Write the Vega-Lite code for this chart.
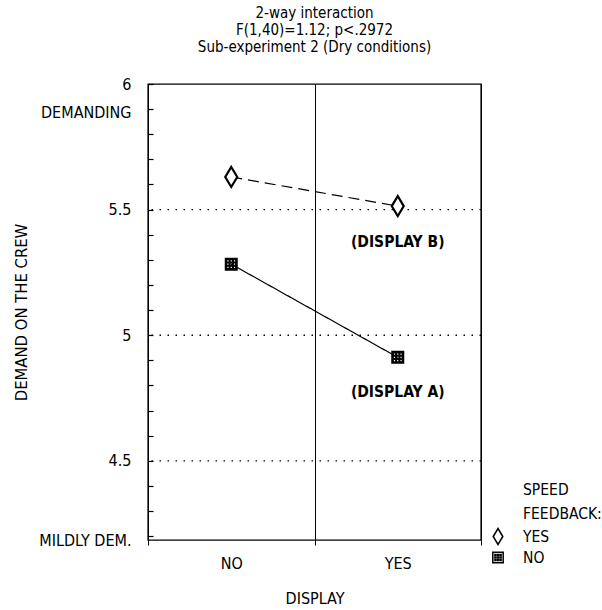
{
  "$schema": "https://vega.github.io/schema/vega-lite/v6.json",
  "width": 333,
  "height": 456,
  "autosize": {"type": "none"},
  "padding": {"left": 148, "top": 84, "right": 121, "bottom": 70},
  "background": "white",
  "config": {
    "font": "DejaVu Sans Condensed, Liberation Sans Narrow, Liberation Sans, sans-serif",
    "view": {"stroke": "black", "strokeWidth": 1.4}
  },
  "title": {
    "text": ["2-way interaction", "F(1,40)=1.12; p<.2972", "Sub-experiment 2 (Dry conditions)"],
    "fontSize": 15,
    "fontWeight": "normal",
    "color": "black",
    "lineHeight": 17,
    "offset": 21,
    "anchor": "middle"
  },
  "resolve": {"axis": {"y": "independent"}},
  "datasets": {
    "points": [
      {"display": "NO", "feedback": "YES", "demand": 5.63},
      {"display": "YES", "feedback": "YES", "demand": 5.514},
      {"display": "NO", "feedback": "NO", "demand": 5.283},
      {"display": "YES", "feedback": "NO", "demand": 4.912}
    ],
    "grid": [{"level": 4.5}, {"level": 5.0}, {"level": 5.5}],
    "notes": [
      {"display": "YES", "demand": 5.372, "label": "(DISPLAY B)"},
      {"display": "YES", "demand": 4.775, "label": "(DISPLAY A)"}
    ]
  },
  "layer": [
    {
      "data": {"name": "grid"},
      "mark": {"type": "rule", "stroke": "black", "strokeWidth": 1.4, "strokeDash": [1.5, 6.5]},
      "encoding": {
        "y": {"field": "level", "type": "quantitative", "scale": {"domain": [4.185, 6], "nice": false, "zero": false},
          "axis": {
            "orient": "left", "title": null, "labels": false, "domain": false, "grid": false,
            "values": [4.2, 4.3, 4.4, 4.5, 4.6, 4.7, 4.8, 4.9, 5, 5.1, 5.2, 5.3, 5.4, 5.5, 5.6, 5.7, 5.8, 5.9, 6],
            "ticks": true, "tickSize": -5, "tickColor": "black", "tickWidth": 1.2
          }}
      }
    },
    {
      "data": {"name": "points"},
      "mark": {"type": "line", "stroke": "black", "strokeWidth": 1.2},
      "encoding": {
        "x": {"field": "display", "type": "nominal", "sort": ["NO", "YES"],
          "scale": {"type": "band", "domain": ["NO", "YES"], "paddingInner": 0, "paddingOuter": 0},
          "axis": {
            "title": "DISPLAY", "tickBand": "extent", "grid": true, "gridColor": "black", "gridWidth": 1, "gridOpacity": 1,
            "domain": false, "ticks": true, "tickColor": "black", "tickSize": 5, "labelPadding": 10,
            "labelFontSize": 16, "labelColor": "black", "labelAngle": 0,
            "titleFontSize": 16, "titleFontWeight": "normal", "titlePadding": 19, "titleColor": "black"
          }},
        "y": {"field": "demand", "type": "quantitative", "scale": {"domain": [4.185, 6], "nice": false, "zero": false},
          "axis": {
            "orient": "left",
            "title": "DEMAND ON THE CREW",
            "values": [4.2, 4.5, 5, 5.5, 5.9, 6],
            "labelExpr": "abs(datum.value - 5.9) < 0.01 ? 'DEMANDING' : (abs(datum.value - 4.2) < 0.01 ? 'MILDLY DEM.' : format(datum.value, '~g'))",
            "labelOffset": {"condition": [{"test": "abs(datum.value - 4.2) < 0.01", "value": 4}, {"test": "abs(datum.value - 5.9) < 0.01", "value": 3}], "value": 0},
            "ticks": false, "grid": false, "domain": false, "labelPadding": 17, "labelFontSize": 16, "labelColor": "black",
            "labelOverlap": false, "labelFlush": false, "labelBaseline": "middle",
            "titleFontSize": 16.5, "titleFontWeight": "normal", "titlePadding": 9, "titleColor": "black"
          }},
        "detail": {"field": "feedback", "type": "nominal"},
        "strokeDash": {"condition": {"test": "datum.feedback === 'YES'", "value": [11, 6]}, "value": [1, 0]}
      }
    },
    {
      "data": {"name": "points"},
      "mark": {"type": "point", "stroke": "black", "opacity": 1, "size": 400},
      "encoding": {
        "x": {"field": "display", "type": "nominal", "sort": ["NO", "YES"]},
        "y": {"field": "demand", "type": "quantitative", "axis": null},
        "fill": {"condition": {"test": "datum.feedback === 'NO'", "value": "black"}, "value": "white"},
        "strokeWidth": {"condition": {"test": "datum.feedback === 'YES'", "value": 2.2}, "value": 0},
        "shape": {"field": "feedback", "type": "nominal",
          "scale": {"domain": ["YES", "NO"], "range": [
            "M0,-1L0.6,0L0,1L-0.6,0Z",
            "M-0.65,-0.65L0.65,-0.65L0.65,0.65L-0.65,0.65ZM-0.39,-0.39L-0.39,-0.27L-0.27,-0.27L-0.27,-0.39ZM-0.06,-0.39L-0.06,-0.27L0.06,-0.27L0.06,-0.39ZM0.27,-0.39L0.27,-0.27L0.39,-0.27L0.39,-0.39ZM-0.39,-0.06L-0.39,0.06L-0.27,0.06L-0.27,-0.06ZM-0.06,-0.06L-0.06,0.06L0.06,0.06L0.06,-0.06ZM0.27,-0.06L0.27,0.06L0.39,0.06L0.39,-0.06ZM-0.39,0.27L-0.39,0.39L-0.27,0.39L-0.27,0.27ZM-0.06,0.27L-0.06,0.39L0.06,0.39L0.06,0.27ZM0.27,0.27L0.27,0.39L0.39,0.39L0.39,0.27Z"
          ]},
          "legend": {
            "orient": "none", "legendX": 375, "legendY": 399, "padding": 0,
            "title": ["SPEED", "FEEDBACK:"], "titleFontSize": 15.5, "titleFontWeight": "normal", "titleColor": "black",
            "titleLineHeight": 24, "titlePadding": 5, "titleAlign": "left",
            "labelFontSize": 15.5, "labelColor": "black", "labelOffset": 16,
            "symbolSize": 256, "symbolOffset": -34, "rowPadding": 1,
            "encode": {
              "symbols": {"update": {
                "shape": {"signal": "datum.value === 'YES' ? 'M-1.2,0L-0.6,0M0.6,0L1.2,0M0,-1L0.6,0L0,1L-0.6,0Z' : 'M-1.2,0L-0.65,0M0.65,0L1.2,0M-0.65,-0.65L0.65,-0.65L0.65,0.65L-0.65,0.65ZM-0.39,-0.39L-0.39,-0.27L-0.27,-0.27L-0.27,-0.39ZM-0.06,-0.39L-0.06,-0.27L0.06,-0.27L0.06,-0.39ZM0.27,-0.39L0.27,-0.27L0.39,-0.27L0.39,-0.39ZM-0.39,-0.06L-0.39,0.06L-0.27,0.06L-0.27,-0.06ZM-0.06,-0.06L-0.06,0.06L0.06,0.06L0.06,-0.06ZM0.27,-0.06L0.27,0.06L0.39,0.06L0.39,-0.06ZM-0.39,0.27L-0.39,0.39L-0.27,0.39L-0.27,0.27ZM-0.06,0.27L-0.06,0.39L0.06,0.39L0.06,0.27ZM0.27,0.27L0.27,0.39L0.39,0.39L0.39,0.27Z'"},
                "fill": {"signal": "datum.value === 'YES' ? 'white' : 'black'"},
                "stroke": {"value": "black"},
                "strokeWidth": {"signal": "datum.value === 'YES' ? 2.4 : 1.5"},
                "opacity": {"value": 1}
              }}
            }
          }}
      }
    },
    {
      "data": {"name": "notes"},
      "mark": {"type": "text", "fontSize": 15.5, "fontWeight": "bold", "color": "black", "dx": 0, "baseline": "middle", "align": "center"},
      "encoding": {
        "x": {"field": "display", "type": "nominal", "sort": ["NO", "YES"]},
        "y": {"field": "demand", "type": "quantitative", "axis": null},
        "text": {"field": "label", "type": "nominal"}
      }
    }
  ]
}
